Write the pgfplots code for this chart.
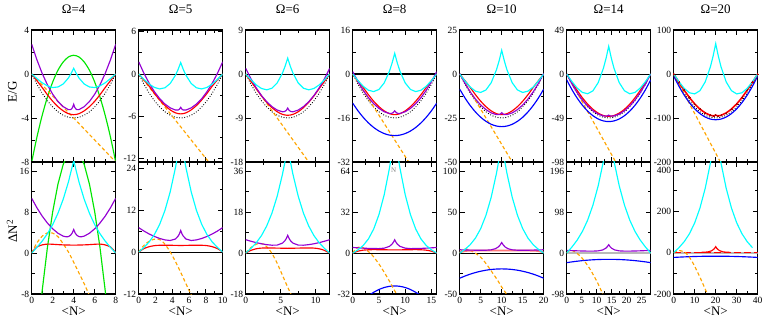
\documentclass[border=0pt]{standalone}
\usepackage{pgfplots}
\pgfplotsset{compat=1.18}
\usepackage{fontspec}
\setmainfont{Liberation Serif}
\definecolor{cyc}{RGB}{0,255,255}
\definecolor{prp}{RGB}{148,0,211}
\definecolor{orc}{RGB}{255,165,0}
\definecolor{grc}{RGB}{0,230,0}
\definecolor{blc}{RGB}{0,0,255}
\definecolor{rdc}{RGB}{255,0,0}
\definecolor{pnk}{RGB}{255,120,120}
\definecolor{dkr}{RGB}{170,0,0}
\pgfplotsset{
  panel/.style={scale only axis, width=84pt, height=132pt, anchor=north west,
    axis line style={line width=1.1pt}, tick align=inside,
    major tick length=5pt, minor tick length=2.8pt,
    every tick/.style={black, line width=0.9pt},
    minor x tick num=1, minor y tick num=1,
    tick label style={font=\fontsize{9.5}{10}\selectfont},
    /pgf/number format/assume math mode=true,
    /pgf/number format/1000 sep={},
    yticklabel style={xshift=1pt}, clip=true},
  cy/.style={color=cyc, line width=1.15pt},
  pr/.style={color=prp, line width=1.15pt},
  rd/.style={color=rdc, line width=1.15pt},
  bl/.style={color=blc, line width=1.15pt},
  gr/.style={color=grc, line width=1.15pt},
  or/.style={color=orc, line width=1.15pt, dash pattern=on 3.5pt off 2.5pt},
  dt/.style={black, line width=1.2pt, line cap=round, dash pattern=on 0pt off 2.6pt},
  zl/.style={black, line width=0.9pt},
}
\begin{document}
\begin{tikzpicture}
\path[use as bounding box] (0,0) rectangle (763pt,318pt);
\foreach \x/\t in {73.7/4,180.7/5,287.7/6,394.7/8,501.7/10,608.7/14,715.7/20}{
  \node[font=\fontsize{13}{13}\selectfont] at (\x pt,309pt) {Ω=\t};
  \node[font=\fontsize{13}{13}\selectfont] at (\x pt,7pt) {<N>};
}
\node[rotate=90,font=\fontsize{13}{13}\selectfont] at (12.5pt,226pt) {E/G};
\node[rotate=90,font=\fontsize{13}{13}\selectfont] at (12pt,87pt) {ΔN\textsuperscript{2}};

%%%%%%%%%%%%%%%% Omega = 4
\begin{axis}[panel, at={(31.7pt,288pt)}, xmin=0, xmax=8, ymin=-8, ymax=4,
  xtick={0,2,4,6,8}, ytick={-8,-4,0,4}, xticklabels={}]
\addplot[zl] coordinates {(0,0)(8,0)};
\addplot[gr, smooth] coordinates {(0,-8)(0.5,-5.73)(1,-3.76)(1.5,-2.09)(2,-0.73)(2.5,0.34)(3,1.09)(3.5,1.55)(4,1.7)(4.5,1.55)(5,1.09)(5.5,0.34)(6,-0.73)(6.5,-2.09)(7,-3.76)(7.5,-5.73)(8,-8)};
\addplot[dt] coordinates {(0,0)(0.5,-0.94)(1,-1.75)(1.5,-2.44)(2,-3)(2.5,-3.44)(3,-3.75)(3.5,-3.94)(4,-4)(4.5,-3.94)(5,-3.75)(5.5,-3.44)(6,-3)(6.5,-2.44)(7,-1.75)(7.5,-0.94)(8,0)};
\addplot[or] coordinates {(0,0)(8,-8)};
\addplot[rd, smooth] coordinates {(0,0)(0.5,-0.61)(1,-1.23)(1.5,-1.89)(2,-2.48)(2.5,-2.97)(3,-3.35)(3.5,-3.61)(4,-3.70)(4.5,-3.61)(5,-3.35)(5.5,-2.97)(6,-2.48)(6.5,-1.89)(7,-1.23)(7.5,-0.61)(8,0)};
\addplot[pr] coordinates {(0,2.7)(0.5,1.28)(1,0.05)(1.5,-0.99)(2,-1.84)(2.5,-2.5)(3,-2.97)(3.5,-3.24)(3.7,-3.24)(3.8,-3.17)(3.9,-3.03)(4,-2.75)(4.1,-3.03)(4.2,-3.17)(4.3,-3.24)(4.5,-3.24)(5,-2.97)(5.5,-2.5)(6,-1.84)(6.5,-0.99)(7,0.05)(7.5,1.28)(8,2.7)};
\addplot[cy] coordinates {(0,0)(0.5,-0.42)(1,-0.80)(1.5,-1.08)(2,-1.23)(2.5,-1.18)(3,-0.91)(3.5,-0.36)(3.75,0.04)(4,0.52)(4.25,0.04)(4.5,-0.36)(5,-0.91)(5.5,-1.18)(6,-1.23)(6.5,-1.08)(7,-0.80)(7.5,-0.42)(8,0)};
\end{axis}
\begin{axis}[panel, at={(31.7pt,156pt)}, xmin=0, xmax=8, ymin=-8, ymax=17.8,
  xtick={0,2,4,6,8}, ytick={-8,0,8,16}]
\addplot[gr] coordinates {(0.8,-11.1)(1,-7.32)(1.5,1.15)(2,8.08)(2.5,13.47)(3,17.32)(3.5,19.63)(4,20.4)(4.5,19.63)(5,17.32)(5.5,13.47)(6,8.08)(6.5,1.15)(7,-7.32)(7.2,-11.1)};
\addplot[or, smooth] coordinates {(0,0)(0.5,2.0)(1,3.3)(1.5,3.95)(2,3.9)(2.5,3.2)(3,1.8)(3.5,0.2)(4,-1.8)(4.5,-3.9)(5,-6.0)(5.5,-8.3)};
\addplot[rd, smooth] coordinates {(0,0)(0.25,0.7)(0.5,1.2)(1,1.6)(1.5,1.75)(2,1.72)(2.5,1.65)(3,1.6)(3.5,1.57)(4,1.55)(4.5,1.57)(5,1.6)(5.5,1.65)(6,1.72)(6.5,1.75)(7,1.6)(7.5,1.2)(7.75,0.7)(8,0)};
\addplot[pr] coordinates {(0,10.7)(0.5,8.84)(1,7.22)(1.5,5.86)(2,4.74)(2.5,3.88)(3,3.31)(3.3,3.17)(3.5,3.22)(3.7,3.48)(3.85,3.88)(4,4.6)(4.15,3.88)(4.3,3.48)(4.5,3.22)(4.7,3.17)(5,3.31)(5.5,3.88)(6,4.74)(6.5,5.86)(7,7.22)(7.5,8.84)(8,10.7)};
\addplot[cy] coordinates {(0,0)(0.5,1.12)(1,2.34)(1.5,3.79)(2,5.56)(2.5,7.77)(3,10.52)(3.5,13.91)(4,18.08)(4.5,13.91)(5,10.52)(5.5,7.77)(6,5.56)(6.5,3.79)(7,2.34)(7.5,1.12)(8,0)};
\end{axis}

%%%%%%%%%%%%%%%% Omega = 5
\begin{axis}[panel, at={(138.7pt,288pt)}, xmin=0, xmax=10, ymin=-12.5, ymax=6.25,
  xtick={0,2,4,6,8,10}, ytick={-12,-6,0,6}, xticklabels={}]
\addplot[zl] coordinates {(0,0)(10,0)};
\addplot[dt] coordinates {(0,0)(0.625,-1.46)(1.25,-2.73)(1.875,-3.81)(2.5,-4.69)(3.125,-5.37)(3.75,-5.86)(4.375,-6.15)(5,-6.25)(5.625,-6.15)(6.25,-5.86)(6.875,-5.37)(7.5,-4.69)(8.125,-3.81)(8.75,-2.73)(9.375,-1.46)(10,0)};
\addplot[or] coordinates {(0,0)(10,-15)};
\addplot[rd, smooth] coordinates {(0,0)(0.625,-0.83)(1.25,-1.73)(1.875,-2.76)(2.5,-3.69)(3.125,-4.48)(3.75,-5.10)(4.375,-5.52)(5,-5.67)(5.625,-5.52)(6.25,-5.10)(6.875,-4.48)(7.5,-3.69)(8.125,-2.76)(8.75,-1.73)(9.375,-0.83)(10,0)};
\addplot[pr] coordinates {(0,1.73)(0.625,0.09)(1.25,-1.32)(1.875,-2.52)(2.5,-3.51)(3.125,-4.27)(3.75,-4.81)(4.375,-5.12)(4.7,-5.11)(4.85,-5.0)(5,-4.73)(5.15,-5.0)(5.3,-5.11)(5.625,-5.12)(6.25,-4.81)(6.875,-4.27)(7.5,-3.51)(8.125,-2.52)(8.75,-1.32)(9.375,0.09)(10,1.73)};
\addplot[cy] coordinates {(0,0)(0.625,-0.76)(1.25,-1.43)(1.875,-1.91)(2.5,-2.12)(3.125,-1.96)(3.75,-1.35)(4.375,-0.18)(4.6875,0.63)(5,1.62)(5.3125,0.63)(5.625,-0.18)(6.25,-1.35)(6.875,-1.96)(7.5,-2.12)(8.125,-1.91)(8.75,-1.43)(9.375,-0.76)(10,0)};
\end{axis}
\begin{axis}[panel, at={(138.7pt,156pt)}, xmin=0, xmax=10, ymin=-12, ymax=25.8,
  xtick={0,2,4,6,8,10}, ytick={-12,0,12,24}]
\addplot[zl] coordinates {(0,0)(10,0)};
\addplot[or, smooth] coordinates {(0,0)(0.5,1.6)(1,2.7)(1.5,3.4)(2,3.75)(2.5,3.6)(3,2.6)(3.5,1.0)(4,-1.0)(4.5,-3.3)(5,-5.8)(5.5,-8.4)(6,-11)(6.4,-13)};
\addplot[rd, smooth] coordinates {(0,0)(0.625,1.0)(1.25,1.55)(1.875,1.85)(2.5,1.95)(3.75,1.95)(5,1.9)(6.25,1.95)(7.5,1.95)(8.125,1.85)(8.75,1.55)(9.375,1.0)(10,0)};
\addplot[pr] coordinates {(0,7.0)(0.625,6.03)(1.25,5.18)(1.875,4.47)(2.5,3.90)(3.125,3.49)(3.75,3.32)(4.375,3.75)(4.7,4.59)(4.85,5.25)(5,6.2)(5.15,5.25)(5.3,4.59)(5.625,3.75)(6.25,3.32)(6.875,3.49)(7.5,3.90)(8.125,4.47)(8.75,5.18)(9.375,6.03)(10,7.0)};
\addplot[cy] coordinates {(0,0)(0.625,1.33)(1.25,2.92)(1.875,5.04)(2.5,7.96)(3.125,11.94)(3.75,17.25)(4.375,24.16)(4.6875,28.3)(5,32.9)(5.3125,28.3)(5.625,24.16)(6.25,17.25)(6.875,11.94)(7.5,7.96)(8.125,5.04)(8.75,2.92)(9.375,1.33)(10,0)};
\end{axis}

%%%%%%%%%%%%%%%% Omega = 6
\begin{axis}[panel, at={(245.7pt,288pt)}, xmin=0, xmax=12, ymin=-18, ymax=9,
  xtick={0,5,10}, ytick={-18,-9,0,9}, xticklabels={}]
\addplot[zl] coordinates {(0,0)(12,0)};
\addplot[dt] coordinates {(0,0)(0.75,-2.11)(1.5,-3.94)(2.25,-5.48)(3,-6.75)(3.75,-7.73)(4.5,-8.44)(5.25,-8.86)(6,-9)(6.75,-8.86)(7.5,-8.44)(8.25,-7.73)(9,-6.75)(9.75,-5.48)(10.5,-3.94)(11.25,-2.11)(12,0)};
\addplot[or] coordinates {(0,0)(12,-24)};
\addplot[rd, smooth] coordinates {(0,0)(0.75,-1.51)(1.5,-2.99)(2.25,-4.48)(3,-5.80)(3.75,-6.88)(4.5,-7.72)(5.25,-8.26)(6,-8.45)(6.75,-8.26)(7.5,-7.72)(8.25,-6.88)(9,-5.80)(9.75,-4.48)(10.5,-2.99)(11.25,-1.51)(12,0)};
\addplot[pr] coordinates {(0,1.15)(0.75,-0.98)(1.5,-2.83)(2.25,-4.40)(3,-5.68)(3.75,-6.67)(4.5,-7.38)(5.25,-7.73)(5.55,-7.68)(5.8,-7.44)(6,-6.97)(6.2,-7.44)(6.45,-7.68)(6.75,-7.73)(7.5,-7.38)(8.25,-6.67)(9,-5.68)(9.75,-4.40)(10.5,-2.83)(11.25,-0.98)(12,1.15)};
\addplot[cy] coordinates {(0,0)(0.75,-1.19)(1.5,-2.23)(2.25,-2.96)(3,-3.24)(3.75,-2.91)(4.5,-1.82)(5.25,0.18)(5.625,1.57)(6,3.24)(6.375,1.57)(6.75,0.18)(7.5,-1.82)(8.25,-2.91)(9,-3.24)(9.75,-2.96)(10.5,-2.23)(11.25,-1.19)(12,0)};
\end{axis}
\begin{axis}[panel, at={(245.7pt,156pt)}, xmin=0, xmax=12, ymin=-18, ymax=40.1,
  xtick={0,5,10}, ytick={-18,0,18,36}]
\addplot[zl] coordinates {(0,0)(12,0)};
\addplot[or, smooth] coordinates {(0,0)(0.5,1.8)(1,3.0)(1.5,3.9)(2,4.3)(2.5,4.0)(3,2.8)(3.5,1.0)(4,-1.5)(4.5,-4.5)(5,-8)(5.5,-11.5)(6,-15)(6.6,-19)};
\addplot[rd, smooth] coordinates {(0,0)(0.75,1.2)(1.5,1.9)(2.25,2.2)(3,2.25)(4.5,2.2)(6,2.1)(7.5,2.2)(9,2.25)(9.75,2.2)(10.5,1.9)(11.25,1.2)(12,0)};
\addplot[pr] coordinates {(0,5.9)(0.75,5.21)(1.5,4.61)(2.25,4.11)(3,3.72)(3.75,3.48)(4.5,3.53)(5.25,4.39)(5.6,5.45)(5.8,6.43)(6,7.8)(6.2,6.43)(6.4,5.45)(6.75,4.39)(7.5,3.53)(8.25,3.48)(9,3.72)(9.75,4.11)(10.5,4.61)(11.25,5.21)(12,5.9)};
\addplot[cy] coordinates {(0,0)(0.75,2.09)(1.5,4.53)(2.25,7.69)(3,11.93)(3.75,17.6)(4.5,25.06)(5.25,34.67)(5.625,40.4)(6,46.8)(6.375,40.4)(6.75,34.67)(7.5,25.06)(8.25,17.6)(9,11.93)(9.75,7.69)(10.5,4.53)(11.25,2.09)(12,0)};
\end{axis}

%%%%%%%%%%%%%%%% Omega = 8
\begin{axis}[panel, at={(352.7pt,288pt)}, xmin=0, xmax=16, ymin=-32, ymax=16,
  xtick={0,5,10,15}, ytick={-32,-16,0,16}, xticklabels={}]
\addplot[zl, line width=1.3pt] coordinates {(0,0)(16,0)};
\addplot[dt] coordinates {(0,0)(1,-3.75)(2,-7)(3,-9.75)(4,-12)(5,-13.75)(6,-15)(7,-15.75)(8,-16)(9,-15.75)(10,-15)(11,-13.75)(12,-12)(13,-9.75)(14,-7)(15,-3.75)(16,0)};
\addplot[or] coordinates {(0,0)(16,-48)};
\addplot[bl, smooth] coordinates {(0,-10.6)(1,-13.37)(2,-15.76)(3,-17.79)(4,-19.45)(5,-20.74)(6,-21.66)(7,-22.22)(8,-22.4)(9,-22.22)(10,-21.66)(11,-20.74)(12,-19.45)(13,-17.79)(14,-15.76)(15,-13.37)(16,-10.6)};
\addplot[rd, smooth] coordinates {(0,0)(1,-2.43)(2,-4.91)(3,-7.55)(4,-9.91)(5,-11.88)(6,-13.42)(7,-14.43)(8,-14.79)(9,-14.43)(10,-13.42)(11,-11.88)(12,-9.91)(13,-7.55)(14,-4.91)(15,-2.43)(16,0)};
\addplot[pr] coordinates {(0,0.85)(1,-2.80)(2,-5.95)(3,-8.63)(4,-10.81)(5,-12.51)(6,-13.73)(7,-14.35)(7.4,-14.32)(7.7,-14.06)(8,-13.4)(8.3,-14.06)(8.6,-14.32)(9,-14.35)(10,-13.73)(11,-12.51)(12,-10.81)(13,-8.63)(14,-5.95)(15,-2.80)(16,0.85)};
\addplot[cy] coordinates {(0,0)(1,-2.40)(2,-4.47)(3,-5.91)(4,-6.40)(5,-5.62)(6,-3.25)(7,1.02)(7.5,3.97)(8,7.52)(8.5,3.97)(9,1.02)(10,-3.25)(11,-5.62)(12,-6.40)(13,-5.91)(14,-4.47)(15,-2.40)(16,0)};
\end{axis}
\begin{axis}[panel, at={(352.7pt,156pt)}, xmin=0, xmax=16, ymin=-32, ymax=71.3,
  xtick={0,5,10,15}, ytick={-32,0,32,64}]
\addplot[zl] coordinates {(0,0)(16,0)};
\addplot[bl, smooth] coordinates {(3,-33.45)(3.5,-31.98)(4,-30.66)(5,-28.49)(6,-26.94)(7,-26.01)(8,-25.7)(9,-26.01)(10,-26.94)(11,-28.49)(12,-30.66)(12.5,-31.98)(13,-33.45)};
\addplot[or, smooth] coordinates {(0,0)(0.5,3)(1,4.5)(1.5,4.8)(2,4.2)(2.5,2.8)(3,1.2)(3.5,-0.6)(4,-3)(5,-8.5)(6,-15)(7,-22)(8,-29.5)(8.5,-33)};
\addplot[rd, smooth] coordinates {(0,0)(1,1.5)(2,2.3)(3,2.6)(4,2.7)(6,2.6)(8,2.5)(10,2.6)(12,2.7)(13,2.6)(14,2.3)(15,1.5)(16,0)};
\addplot[pr] coordinates {(0,4.4)(1,4.12)(2,3.875)(3,3.68)(4,3.55)(5,3.54)(6,3.87)(7,5.28)(7.5,7.05)(7.8,8.81)(8,10.4)(8.2,8.81)(8.5,7.05)(9,5.28)(10,3.87)(11,3.54)(12,3.55)(13,3.68)(14,3.875)(15,4.12)(16,4.4)};
\addplot[cy] coordinates {(0,0)(1,2.54)(2,5.96)(3,11.11)(4,18.87)(5,30.11)(6,45.7)(7,66.5)(7.5,79.1)(8,93.4)(8.5,79.1)(9,66.5)(10,45.7)(11,30.11)(12,18.87)(13,11.11)(14,5.96)(15,2.54)(16,0)};
\node[gray, font=\fontsize{7}{7}\selectfont] at (axis cs:7.8,65) {N};
\end{axis}

%%%%%%%%%%%%%%%% Omega = 10
\begin{axis}[panel, at={(459.7pt,288pt)}, xmin=0, xmax=20, ymin=-50, ymax=25,
  xtick={0,5,10,15,20}, ytick={-50,-25,0,25}, xticklabels={}]
\addplot[zl] coordinates {(0,0)(20,0)};
\addplot[dt] coordinates {(0,0)(1.25,-5.86)(2.5,-10.94)(3.75,-15.23)(5,-18.75)(6.25,-21.48)(7.5,-23.44)(8.75,-24.61)(10,-25)(11.25,-24.61)(12.5,-23.44)(13.75,-21.48)(15,-18.75)(16.25,-15.23)(17.5,-10.94)(18.75,-5.86)(20,0)};
\addplot[or] coordinates {(0,0)(20,-80)};
\addplot[bl, smooth] coordinates {(0,-8.6)(1.25,-13.59)(2.5,-17.92)(3.75,-21.58)(5,-24.58)(6.25,-26.90)(7.5,-28.57)(8.75,-29.57)(10,-29.9)(11.25,-29.57)(12.5,-28.57)(13.75,-26.90)(15,-24.58)(16.25,-21.58)(17.5,-17.92)(18.75,-13.59)(20,-8.6)};
\addplot[rd, smooth] coordinates {(0,0)(1.25,-3.79)(2.5,-7.66)(3.75,-11.78)(5,-15.47)(6.25,-18.55)(7.5,-20.96)(8.75,-22.54)(10,-23.1)(11.25,-22.54)(12.5,-20.96)(13.75,-18.55)(15,-15.47)(16.25,-11.78)(17.5,-7.66)(18.75,-3.79)(20,0)};
\addplot[pr] coordinates {(0,0.3)(1.25,-5.30)(2.5,-10.16)(3.75,-14.26)(5,-17.63)(6.25,-20.24)(7.5,-22.11)(8.75,-23.10)(9.3,-23.09)(9.65,-22.78)(10,-22.0)(10.35,-22.78)(10.7,-23.09)(11.25,-23.10)(12.5,-22.11)(13.75,-20.24)(15,-17.63)(16.25,-14.26)(17.5,-10.16)(18.75,-5.30)(20,0.3)};
\addplot[cy] coordinates {(0,0)(1.25,-3.97)(2.5,-7.40)(3.75,-9.75)(5,-10.49)(6.25,-9.07)(7.5,-4.96)(8.75,2.38)(9.375,7.43)(10,13.5)(10.625,7.43)(11.25,2.38)(12.5,-4.96)(13.75,-9.07)(15,-10.49)(16.25,-9.75)(17.5,-7.40)(18.75,-3.97)(20,0)};
\end{axis}
\begin{axis}[panel, at={(459.7pt,156pt)}, xmin=0, xmax=20, ymin=-50, ymax=111.5,
  xtick={0,5,10,15,20}, ytick={-50,0,50,100}]
\addplot[zl] coordinates {(0,0)(20,0)};
\addplot[bl, smooth] coordinates {(0,-30.7)(1.25,-28.03)(2.5,-25.71)(3.75,-23.75)(5,-22.15)(6.25,-20.90)(7.5,-20.01)(8.75,-19.48)(10,-19.3)(11.25,-19.48)(12.5,-20.01)(13.75,-20.90)(15,-22.15)(16.25,-23.75)(17.5,-25.71)(18.75,-28.03)(20,-30.7)};
\addplot[or, smooth] coordinates {(0,0)(0.5,3.5)(1,4.6)(1.7,4.9)(2.5,3.5)(3,2)(3.7,0)(5,-5)(6,-11)(7,-18)(8,-25.5)(9,-33)(10,-41.5)(11,-49)(11.5,-54)};
\addplot[color=pnk, line width=1.8pt, smooth] coordinates {(0,1)(1.25,2.5)(2.5,3)(5,3.2)(10,3.2)(15,3.2)(17.5,3)(18.75,2.5)(20,1)};
\addplot[pr] coordinates {(0,4.1)(1.25,3.89)(2.5,3.71)(3.75,3.57)(5,3.49)(6.25,3.56)(7.5,4.06)(8.5,5.41)(9.2,7.6)(9.6,9.77)(10,13.0)(10.4,9.77)(10.8,7.6)(11.5,5.41)(12.5,4.06)(13.75,3.56)(15,3.49)(16.25,3.57)(17.5,3.71)(18.75,3.89)(20,4.1)};
\addplot[cy] coordinates {(0,0)(1.25,4.57)(2.5,10.31)(3.75,18.4)(5,30)(6.25,46.3)(7.5,68.4)(8.75,97.6)(9.375,115.2)(10,135)(10.625,115.2)(11.25,97.6)(12.5,68.4)(13.75,46.3)(15,30)(16.25,18.4)(17.5,10.31)(18.75,4.57)(20,0)};
\end{axis}

%%%%%%%%%%%%%%%% Omega = 14
\begin{axis}[panel, at={(566.7pt,288pt)}, xmin=0, xmax=28, ymin=-98, ymax=49,
  xtick={0,5,10,15,20,25}, ytick={-98,-49,0,49}, xticklabels={}]
\addplot[zl] coordinates {(0,0)(28,0)};
\addplot[dt] coordinates {(0,0)(1.75,-11.48)(3.5,-21.44)(5.25,-29.86)(7,-36.75)(8.75,-42.11)(10.5,-45.94)(12.25,-48.23)(14,-49)(15.75,-48.23)(17.5,-45.94)(19.25,-42.11)(21,-36.75)(22.75,-29.86)(24.5,-21.44)(26.25,-11.48)(28,0)};
\addplot[or] coordinates {(0,0)(28,-168)};
\addplot[bl, smooth] coordinates {(0,-6.6)(1.75,-17.48)(3.5,-26.9)(5.25,-34.88)(7,-41.4)(8.75,-46.47)(10.5,-50.1)(12.25,-52.28)(14,-53)(15.75,-52.28)(17.5,-50.1)(19.25,-46.47)(21,-41.4)(22.75,-34.88)(24.5,-26.9)(26.25,-17.48)(28,-6.6)};
\addplot[rd, smooth] coordinates {(0,0)(1.75,-9.50)(3.5,-18.30)(5.25,-26.56)(7,-33.61)(8.75,-39.31)(10.5,-43.56)(12.25,-46.25)(14,-47.18)(15.75,-46.25)(17.5,-43.56)(19.25,-39.31)(21,-33.61)(22.75,-26.56)(24.5,-18.30)(26.25,-9.50)(28,0)};
\addplot[pr] coordinates {(0,0)(1.75,-11.16)(3.5,-20.83)(5.25,-29.01)(7,-35.7)(8.75,-40.91)(10.5,-44.63)(12.25,-46.71)(13,-46.93)(13.5,-46.66)(14,-45.8)(14.5,-46.66)(15,-46.93)(15.75,-46.71)(17.5,-44.63)(19.25,-40.91)(21,-35.7)(22.75,-29.01)(24.5,-20.83)(26.25,-11.16)(28,0)};
\addplot[cy] coordinates {(0,0)(1.75,-8.42)(3.5,-15.66)(5.25,-20.57)(7,-21.98)(8.75,-18.70)(10.5,-9.58)(12.25,6.55)(13.125,17.6)(14,30.87)(14.875,17.6)(15.75,6.55)(17.5,-9.58)(19.25,-18.70)(21,-21.98)(22.75,-20.57)(24.5,-15.66)(26.25,-8.42)(28,0)};
\end{axis}
\begin{axis}[panel, at={(566.7pt,156pt)}, xmin=0, xmax=28, ymin=-98, ymax=218,
  xtick={0,5,10,15,20,25}, ytick={-98,0,98,196}]
\addplot[color=gray!55, line width=2.2pt] coordinates {(0,0)(28,0)};
\addplot[bl, smooth] coordinates {(0,-23)(1.75,-21.1)(3.5,-19.5)(5.25,-18.1)(7,-17.0)(8.75,-16.1)(10.5,-15.5)(12.25,-15.1)(14,-15)(15.75,-15.1)(17.5,-15.5)(19.25,-16.1)(21,-17.0)(22.75,-18.1)(24.5,-19.5)(26.25,-21.1)(28,-23)};
\addplot[or, smooth] coordinates {(0,0)(0.5,4)(1,5.8)(1.5,6.2)(2,5.5)(3,2)(3.3,0)(4,-4)(5,-11)(6,-20)(7,-30)(8,-41)(9,-54)(10,-67)(11,-82)(12,-98)(12.5,-106)};
\addplot[pr] coordinates {(0,6.4)(1.75,5.84)(3.5,5.35)(5.25,4.94)(7,4.67)(8.75,4.62)(10.5,5.23)(12,7.49)(13,11.41)(13.5,14.9)(14,20)(14.5,14.9)(15,11.41)(16,7.49)(17.5,5.23)(19.25,4.62)(21,4.67)(22.75,4.94)(24.5,5.35)(26.25,5.84)(28,6.4)};
\addplot[cy] coordinates {(0,0)(1.75,14.5)(3.5,31.1)(5.25,51.96)(7,79.2)(8.75,114.9)(10.5,161.2)(12.25,220.3)(13.125,255.2)(14,294.2)(14.875,255.2)(15.75,220.3)(17.5,161.2)(19.25,114.9)(21,79.2)(22.75,51.96)(24.5,31.1)(26.25,14.5)(28,0)};
\end{axis}

%%%%%%%%%%%%%%%% Omega = 20
\begin{axis}[panel, at={(673.7pt,288pt)}, xmin=0, xmax=40, ymin=-200, ymax=100,
  xtick={0,10,20,30,40}, ytick={-200,-100,0,100}, xticklabels={}]
\addplot[zl] coordinates {(0,0)(40,0)};
\addplot[dt] coordinates {(0,0)(2.5,-23.44)(5,-43.75)(7.5,-60.94)(10,-75)(12.5,-85.94)(15,-93.75)(17.5,-98.44)(20,-100)(22.5,-98.44)(25,-93.75)(27.5,-85.94)(30,-75)(32.5,-60.94)(35,-43.75)(37.5,-23.44)(40,0)};
\addplot[or] coordinates {(0,0)(40,-360)};
\addplot[bl, smooth] coordinates {(0,-4.5)(2.5,-27.82)(5,-48.03)(7.5,-65.13)(10,-79.13)(12.5,-90.0)(15,-97.78)(17.5,-102.45)(20,-104)(22.5,-102.45)(25,-97.78)(27.5,-90.0)(30,-79.13)(32.5,-65.13)(35,-48.03)(37.5,-27.82)(40,-4.5)};
\addplot[rd, line width=1.6pt, mark=+, mark size=1.1pt, mark options={solid, line width=0.5pt, color=dkr}] coordinates {(0,0)(2.5,-19.06)(5,-36.81)(7.5,-53.64)(10,-68.06)(12.5,-79.74)(15,-88.49)(17.5,-94.06)(19,-95.3)(20,-93.3)(21,-95.3)(22.5,-94.06)(25,-88.49)(27.5,-79.74)(30,-68.06)(32.5,-53.64)(35,-36.81)(37.5,-19.06)(40,0)};
\addplot[cy] coordinates {(0,0)(2.5,-17.55)(5,-32.6)(7.5,-42.67)(10,-45.26)(12.5,-37.88)(15,-18.05)(17.5,16.75)(18.75,40.53)(20,69)(21.25,40.53)(22.5,16.75)(25,-18.05)(27.5,-37.88)(30,-45.26)(32.5,-42.67)(35,-32.6)(37.5,-17.55)(40,0)};
\end{axis}
\begin{axis}[panel, at={(673.7pt,156pt)}, xmin=0, xmax=40, ymin=-200, ymax=439,
  xtick={0,10,20,30,40}, ytick={-200,0,200,400}]
\addplot[color=gray!55, line width=2.2pt] coordinates {(0,0)(40,0)};
\addplot[rd, line width=1.4pt, dash pattern=on 7pt off 3pt] coordinates {(0,1)(40,1)};
\addplot[bl, smooth] coordinates {(0,-23)(2.5,-21.6)(5,-20.4)(7.5,-19.3)(10,-18.5)(12.5,-17.8)(15,-17.4)(17.5,-17.1)(20,-17)(22.5,-17.1)(25,-17.4)(27.5,-17.8)(30,-18.5)(32.5,-19.3)(35,-20.4)(37.5,-21.6)(40,-23)};
\addplot[or, smooth] coordinates {(0,0)(1,6)(2,9.5)(3,10)(4,7.5)(5,3)(5.6,0)(7,-15)(8,-30)(9,-47)(10,-66)(11,-87)(12,-108)(13,-130)(14,-153)(15,-176)(16,-200)(16.5,-213)};
\addplot[rd] coordinates {(13,1.5)(15,2.3)(16.5,4.2)(18,9.0)(19,16)(19.5,21.5)(20,29)(20.5,21.5)(21,16)(22,9)(23.5,4.2)(25,2.3)(27,1.5)};
\addplot[cy] coordinates {(0,0)(2.5,24.3)(5,53.3)(7.5,91.8)(10,144.5)(12.5,216.2)(15,311.4)(17.5,435.1)(18.75,509)(20,592)(21.25,509)(22.5,435.1)(25,311.4)(27.5,216.2)(30,144.5)(32.5,91.8)(35,53.3)(37.5,24.3)};
\end{axis}
\end{tikzpicture}
\end{document}
